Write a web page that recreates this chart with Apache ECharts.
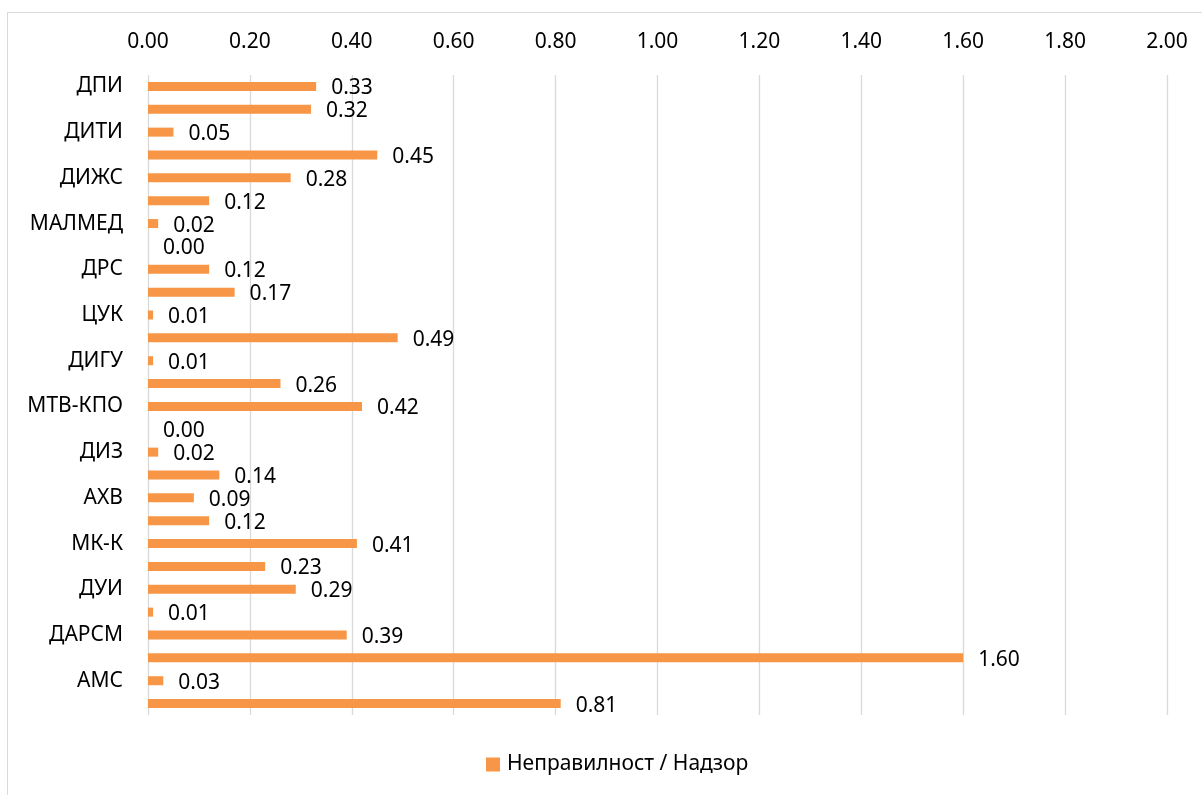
<!DOCTYPE html>
<html>
<head>
<meta charset="utf-8">
<script src="https://cdn.jsdelivr.net/npm/echarts@6/dist/echarts.min.js"></script>
<style>
html,body{margin:0;padding:0;background:#fff;overflow:hidden;}
#frame{position:absolute;left:7px;top:12px;width:1400px;height:1000px;border:1.5px solid #d9d9d9;box-sizing:border-box;}
#chart{position:absolute;left:0;top:0;width:1202px;height:795px;}
</style>
</head>
<body>
<div id="frame"></div>
<div id="chart"></div>
<script>
var categories = ["ДПИ","","ДИТИ","","ДИЖС","","МАЛМЕД","","ДРС","","ЦУК","","ДИГУ","","МТВ-КПО","","ДИЗ","","АХВ","","МК-К","","ДУИ","","ДАРСМ","","АМС",""];
var values = [0.33,0.32,0.05,0.45,0.28,0.12,0.02,0.00,0.12,0.17,0.01,0.49,0.01,0.26,0.42,0.00,0.02,0.14,0.09,0.12,0.41,0.23,0.29,0.01,0.39,1.60,0.03,0.81];
var seriesName = "Неправилност / Надзор";

var FONT = "'Noto Sans', 'Open Sans', sans-serif";
var chart = echarts.init(document.getElementById('chart'), null, {renderer:'canvas'});
chart.setOption({
  backgroundColor: 'transparent',
  animation: false,
  textStyle: {fontFamily: FONT},
  grid: {left: 148, right: 35, top: 75, bottom: 80, containLabel: false},
  xAxis: {
    type: 'value', position: 'top', min: 0, max: 2, interval: 0.2,
    axisLine: {show: false}, axisTick: {show: false},
    splitLine: {show: true, lineStyle: {color: '#d9d9d9', width: 1.3}},
    axisLabel: {fontSize: 21, color: '#000', margin: 22, fontFamily: FONT,
      formatter: function(v){ return v.toFixed(2); }}
  },
  yAxis: {
    type: 'category', inverse: true, data: categories,
    axisLine: {show: false}, axisTick: {show: false},
    axisLabel: {interval: 0, fontSize: 21, color: '#000', margin: 25, fontFamily: FONT}
  },
  legend: {
    left: 481, top: 749, itemWidth: 14, itemHeight: 14, icon: 'rect',
    textStyle: {fontSize: 21, color: '#000', fontFamily: FONT, padding: [0,0,0,2]},
    data: [seriesName]
  },
  series: [{
    name: seriesName, type: 'bar', data: values, barWidth: 9,
    itemStyle: {color: '#F79646'},
    label: {show: true, position: 'right', distance: 15, offset: [0, 2], fontSize: 21, color: '#000', fontFamily: FONT,
      formatter: function(p){ return p.value.toFixed(2); }}
  }]
});
</script>
</body>
</html>
